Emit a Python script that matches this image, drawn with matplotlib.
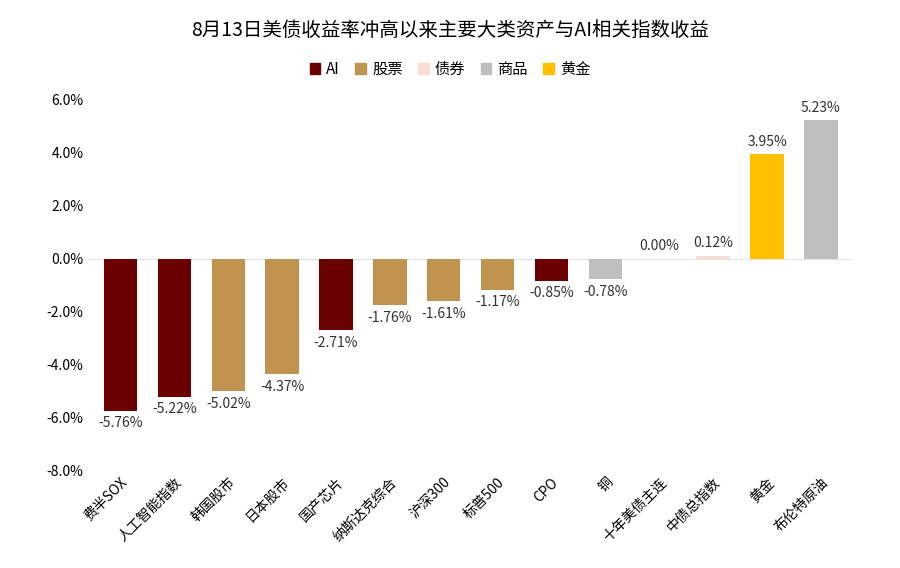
import matplotlib.pyplot as plt
from matplotlib.patches import Patch

plt.rcParams['font.family'] = ['Noto Sans CJK SC', 'DejaVu Sans']

categories = ['费半SOX', '人工智能指数', '韩国股市', '日本股市', '国产芯片', '纳斯达克综合',
              '沪深300', '标普500', 'CPO', '铜', '十年美债主连', '中债总指数', '黄金', '布伦特原油']
values = [-5.76, -5.22, -5.02, -4.37, -2.71, -1.76, -1.61, -1.17, -0.85, -0.78, 0.00, 0.12, 3.95, 5.23]
groups = ['AI', 'AI', '股票', '股票', 'AI', '股票', '股票', '股票', 'AI', '商品', '债券', '债券', '黄金', '商品']
group_order = ['AI', '股票', '债券', '商品', '黄金']
colors = {'AI': '#6B0000', '股票': '#C0934F', '债券': '#F6DED4', '商品': '#BFBFBF', '黄金': '#FFC000'}

fig = plt.figure(figsize=(9, 5.68), dpi=100)
ax = fig.add_axes([0.098, 0.172, 0.85, 0.652])
x = range(len(categories))
ax.bar(x, values, width=0.62, color=[colors[g] for g in groups])

for i, v in enumerate(values):
    if v >= 0:
        ax.text(i, v + 0.2, f'{v:.2f}%', ha='center', va='bottom', fontsize=10, color='#333333')
    else:
        ax.text(i, v - 0.2, f'{v:.2f}%', ha='center', va='top', fontsize=10, color='#333333')

ax.set_ylim(-8, 6)
ax.set_xlim(-0.6, len(categories) - 0.4)
ax.set_yticks(range(-8, 7, 2))
ax.set_yticklabels([f'{t:.1f}%' for t in range(-8, 7, 2)], fontsize=10)
ax.set_xticks(list(x))
ax.set_xticklabels(categories, rotation=45, ha='right', rotation_mode='anchor', fontsize=10)
ax.tick_params(length=0)
for s in ax.spines.values():
    s.set_visible(False)
ax.axhline(0, color='#E5E5E5', lw=0.8, zorder=0)

handles = [Patch(color=colors[g], label=g) for g in group_order]
fig.legend(handles=handles, loc='center', bbox_to_anchor=(0.5, 0.878), ncol=5, frameon=False,
           fontsize=11, handlelength=0.7, handleheight=0.7, columnspacing=1.0, handletextpad=0.4)
fig.suptitle('8月13日美债收益率冲高以来主要大类资产与AI相关指数收益', y=0.965, fontsize=14)

fig.savefig('out.png')
